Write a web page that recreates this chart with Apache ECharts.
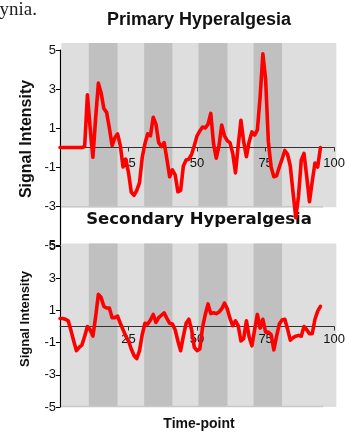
<!DOCTYPE html>
<html>
<head>
<meta charset="utf-8">
<script src="https://cdn.jsdelivr.net/npm/echarts@6/dist/echarts.min.js"></script>
<style>
  html, body { margin: 0; padding: 0; background: #fff; }
  #chart { width: 348px; height: 432px; }
</style>
</head>
<body>
<div id="chart"></div>
<script>
// signal per time-point (index = time-point)
const primarySignal = [
  0, 0, 0, 0, 0, 0, 0, 0, 0, 0.05,
  2.7, 1.0, -0.5, 1.5, 3.3, 2.8, 2.0, 1.8, 1.0, 0.1,
  0.5, 0.7, 0.1, -1.0, -0.6, -1.3, -2.3, -2.45, -2.2, -1.8,
  -0.5, 0.2, 0.7, 0.6, 1.55, 1.2, 0.25, 0.05, 0.25, -0.6,
  -1.5, -1.15, -1.4, -2.27, -2.2, -0.95, -0.64, -0.6, -0.35, 0.1,
  0.6, 0.85, 1.05, 1.0, 1.2, 1.75, 0.2, -0.55, 0.1, 1.15,
  0.6, 0.35, 0.25, -0.3, -1.3, 0.1, 1.4, 0.3, -0.47, 0.3,
  0.8, 0.64, 0.9, 2.6, 4.8, 3.5, 0.3, -1.0, -1.5, -1.45,
  -1.0, -0.6, -0.15, -0.35, -0.95, -2.3, -3.6, -2.5, -0.65, -0.3,
  -1.5, -2.78, -1.75, -0.8, -1.0, 0.0
];
const secondarySignal = [
  0.5, 0.5, 0.45, 0.35, -0.25, -0.9, -1.5, -1.3, -1.15, -0.6,
  0.0, -0.2, -0.6, 0.6, 2.0, 1.8, 1.25, 1.15, 1.15, 0.55,
  0.55, 0.65, 0.2, -0.2, -0.6, -0.9, -1.4, -1.8, -2.0, -1.5,
  -0.5, 0.2, 0.15, 0.4, 0.75, 0.25, 0.55, 0.7, 0.85, 0.5,
  0.2, 0.15, -0.2, -0.9, -1.5, -0.6, 0.2, 0.45, -0.2, -1.3,
  -1.5, -1.4, -0.05, 0.75, 1.4, 0.8, 0.85, 0.8, 0.9, 1.1,
  1.45, 1.1, 0.5, 0.05, 0.35, 0.05, -0.9, -0.75, 0.35, -0.65,
  -1.2, -0.2, 0.75, -0.1, 0.45, -0.35, -0.35, -0.5, -1.45, -0.6,
  0.15, 0.4, 0.45, -0.15, -0.85, -0.7, -0.6, -0.55, -0.6, 0.0,
  -0.2, -0.45, -0.45, 0.45, 0.95, 1.25
];

// tick labels
const xTickValues = [25, 50, 75, 100];
const yTickValues = [-5, -3, -1, 1, 3, 5];

// shaded (darker) time windows
const shadeStarts = [10.5, 30.7, 50.5, 70.6];
const shadeEnds = [21, 41, 61.1, 81];

const FONT = "'Liberation Sans', Arial, sans-serif";
const GRIDS = [
  { left: 60, right: 10, top: 50, height: 195 },
  { left: 60, right: 10, top: 246, height: 161 },
];

const chart = echarts.init(document.getElementById("chart"));

// x axis sits on the zero line (y range is symmetric, so half the grid height up)
function xAxisFor(gridIndex, labelMargin) {
  return {
    type: "value",
    gridIndex,
    min: 0,
    max: 100,
    interval: 25,
    position: "bottom",
    offset: -GRIDS[gridIndex].height / 2,
    axisLine: { onZero: false, lineStyle: { color: "#333", width: 1 } },
    axisTick: { length: 4, customValues: xTickValues, lineStyle: { color: "#333" } },
    axisLabel: {
      fontFamily: FONT, fontSize: 13, color: "#111", margin: labelMargin,
      customValues: xTickValues,
    },
    splitLine: { show: false },
    z: 5,
  };
}

function yAxisFor(gridIndex) {
  return {
    type: "value",
    gridIndex,
    min: -5,
    max: 5,
    axisLine: { show: true, onZero: false, lineStyle: { color: "#000", width: 1.2 } },
    axisTick: { show: true, length: 4, customValues: yTickValues, lineStyle: { color: "#000" } },
    axisLabel: { fontFamily: FONT, fontSize: 13, color: "#111", margin: 4, customValues: yTickValues },
    splitLine: { show: false },
    z: 5,
  };
}

function lineSeries(idx, values) {
  return {
    type: "line",
    xAxisIndex: idx,
    yAxisIndex: idx,
    data: values.map((v, i) => [i, v]),
    showSymbol: false,
    clip: false,
    lineStyle: { color: "#ff0000", width: 3.6, cap: "round", join: "round" },
    itemStyle: { color: "#ff0000" },
    emphasis: { disabled: true },
    z: 10,
  };
}

chart.setOption({
  animation: false,
  grid: GRIDS,
  xAxis: [xAxisFor(0, 9), xAxisFor(1, 6)],
  yAxis: [yAxisFor(0), yAxisFor(1)],
  series: [lineSeries(0, primarySignal), lineSeries(1, secondarySignal)],
});

// panel backgrounds and shaded windows, placed through the axes' scales
function panelGraphics(gridIndex, yTop, yBottom) {
  const px = (x, y) => chart.convertToPixel({ gridIndex }, [x, y]);
  const out = [];
  const rect = (x0, x1, fill) => {
    const a = px(x0, yTop);
    const b = px(x1, yBottom);
    out.push({
      type: "rect", z: -1, silent: true,
      shape: { x: a[0], y: a[1], width: b[0] - a[0], height: b[1] - a[1] },
      style: { fill },
    });
  };
  rect(0.5, 100.8, "#dedede");
  shadeStarts.forEach((s, i) => rect(s, shadeEnds[i], "#c0c0c0"));
  const l0 = px(0.5, yBottom);
  const l1 = px(96, yBottom);
  out.push({
    type: "line", z: -1, silent: true,
    shape: { x1: l0[0], y1: l0[1] - 0.5, x2: l1[0], y2: l1[1] - 0.5 },
    style: { stroke: "#c8c8c8", lineWidth: 1.5 },
  });
  return out;
}

function label(text, x, y, font, rotation) {
  return {
    type: "text", x, y, rotation: rotation || 0, z: 3, silent: true,
    style: { text, font, fill: "#111", textAlign: "center", textVerticalAlign: "middle" },
  };
}

chart.setOption({
  graphic: [
    ...panelGraphics(0, 5.36, -3.07),
    ...panelGraphics(1, 5.16, -5),
    {
      type: "text", x: 37, y: 20, silent: true,
      style: { text: "ynia.", font: "19px 'Liberation Serif', 'Times New Roman', serif", fill: "#222", textAlign: "right", textVerticalAlign: "bottom" },
    },
    label("Primary Hyperalgesia", 199, 20, "bold 18px " + FONT),
    label("Secondary Hyperalgesia", 199, 220, "bold 16.5px 'DejaVu Sans', sans-serif"),
    label("Signal Intensity", 27, 139, "bold 16px " + FONT, Math.PI / 2),
    label("Signal Intensity", 25, 319, "bold 13px " + FONT, Math.PI / 2),
    label("Time-point", 199, 424, "bold 14px " + FONT),
  ],
});
</script>
</body>
</html>
